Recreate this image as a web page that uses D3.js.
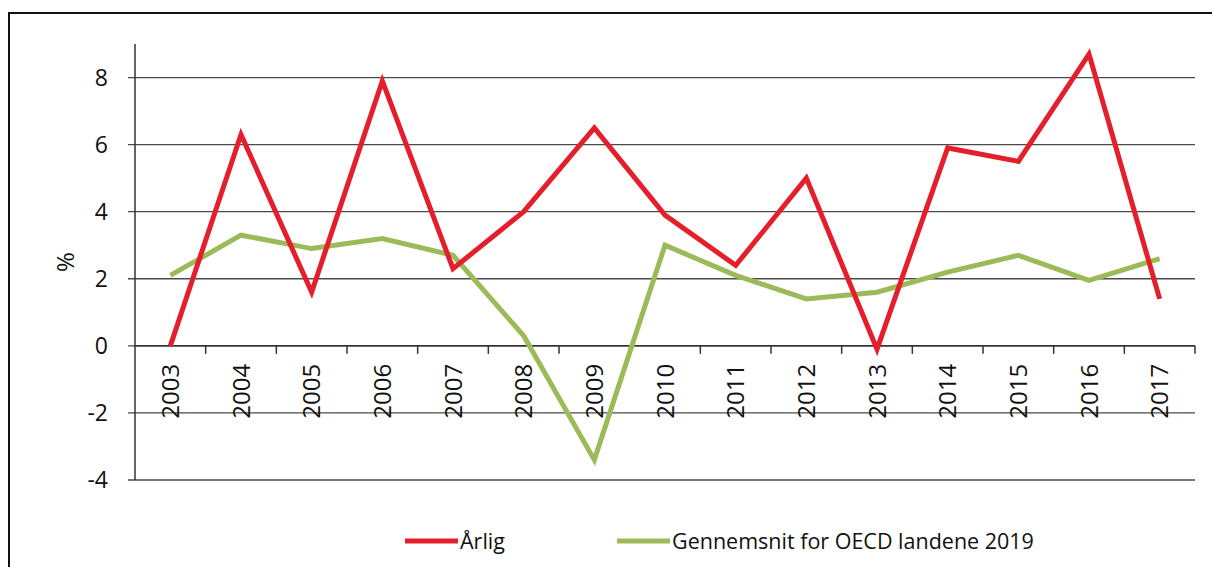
<!DOCTYPE html>
<html>
<head>
<meta charset="utf-8">
<script src="https://cdn.jsdelivr.net/npm/d3@7"></script>
<style>
  body { margin: 0; background: #fff; }
  svg { font-family: "Open Sans", "Liberation Sans", sans-serif; }
</style>
</head>
<body>
<svg width="1212" height="567"></svg>
<script>
// Years on the x axis
var years = ['2003','2004','2005','2006','2007','2008','2009','2010',
             '2011','2012','2013','2014','2015','2016','2017'];

// Annual values (%)
var aarlig = [0, 6.3, 1.6, 7.9, 2.3, 4.0, 6.5, 3.9, 2.4, 5.0, -0.1, 5.9, 5.5, 8.7, 1.4];

// OECD average (%)
var oecd = [2.1, 3.3, 2.9, 3.2, 2.7, 0.3, -3.4, 3.0, 2.1, 1.4, 1.6, 2.2, 2.7, 1.95, 2.6];

var yTicks = [-4, -2, 0, 2, 4, 6, 8];

var seriesNames = ['Årlig', 'Gennemsnit for OECD landene 2019'];
var seriesColors = ['#e41f2b', '#9bbb59'];

var svg = d3.select('svg');

// outer frame
svg.append('rect')
    .attr('x', 9).attr('y', 13)
    .attr('width', 1220).attr('height', 600)
    .attr('fill', 'none').attr('stroke', '#111').attr('stroke-width', 2);

var plotLeft = 135, plotRight = 1195, plotTop = 44, plotBottom = 480;

var x = d3.scaleBand().domain(years).range([plotLeft, plotRight]);
var y = d3.scaleLinear().domain([-4, 9]).range([plotBottom, plotTop]);

// gridlines
svg.append('g').selectAll('line').data(yTicks)
  .enter().append('line')
    .attr('x1', plotLeft - 7).attr('x2', plotRight)
    .attr('y1', d => y(d)).attr('y2', d => y(d))
    .attr('stroke', '#4a4a4a').attr('stroke-width', 1.3);

// y axis line
svg.append('line')
    .attr('x1', plotLeft).attr('x2', plotLeft)
    .attr('y1', plotTop).attr('y2', plotBottom)
    .attr('stroke', '#333').attr('stroke-width', 1.5);

// y tick labels
svg.append('g').selectAll('text').data(yTicks)
  .enter().append('text')
    .attr('x', 108).attr('y', d => y(d))
    .attr('dy', '0.36em')
    .attr('text-anchor', 'end')
    .attr('font-size', 23)
    .attr('fill', '#111')
    .text(d => d);

// y axis title
svg.append('text')
    .attr('transform', 'translate(74,' + y(2.5) + ') rotate(-90)')
    .attr('text-anchor', 'middle')
    .attr('font-size', 24)
    .attr('fill', '#111')
    .text('%');

// x axis at zero with ticks between categories
svg.append('line')
    .attr('x1', plotLeft).attr('x2', plotRight)
    .attr('y1', y(0)).attr('y2', y(0))
    .attr('stroke', '#333').attr('stroke-width', 1.5);

svg.append('g').selectAll('line').data(years)
  .enter().append('line')
    .attr('x1', (d, i) => plotLeft + (i + 1) * x.step())
    .attr('x2', (d, i) => plotLeft + (i + 1) * x.step())
    .attr('y1', y(0)).attr('y2', y(0) + 8)
    .attr('stroke', '#333').attr('stroke-width', 1.5);

// x labels, rotated
svg.append('g').selectAll('text').data(years)
  .enter().append('text')
    .attr('transform', d => 'translate(' + (x(d) + x.bandwidth() / 2) + ',' + (y(0) + 18) + ') rotate(-90)')
    .attr('dy', '0.36em')
    .attr('text-anchor', 'end')
    .attr('font-size', 24)
    .attr('fill', '#111')
    .text(d => d);

// lines, green first so red sits on top
var line = d3.line()
    .x((d, i) => x(years[i]) + x.bandwidth() / 2)
    .y(d => y(d));

[oecd, aarlig].forEach(function(s, k) {
  svg.append('path')
      .attr('d', line(s))
      .attr('fill', 'none')
      .attr('stroke', seriesColors[1 - k])
      .attr('stroke-width', 5)
      .attr('stroke-linejoin', 'miter');
});

// legend
var legendX = [405, 617];
seriesNames.forEach(function(name, k) {
  svg.append('line')
      .attr('x1', legendX[k]).attr('x2', legendX[k] + 53)
      .attr('y1', 541).attr('y2', 541)
      .attr('stroke', seriesColors[k]).attr('stroke-width', 5);
  svg.append('text')
      .attr('x', legendX[k] + 55).attr('y', 541)
      .attr('dy', '0.36em')
      .attr('font-size', 21.5)
      .attr('fill', '#111')
      .text(name);
});
</script>
</body>
</html>
